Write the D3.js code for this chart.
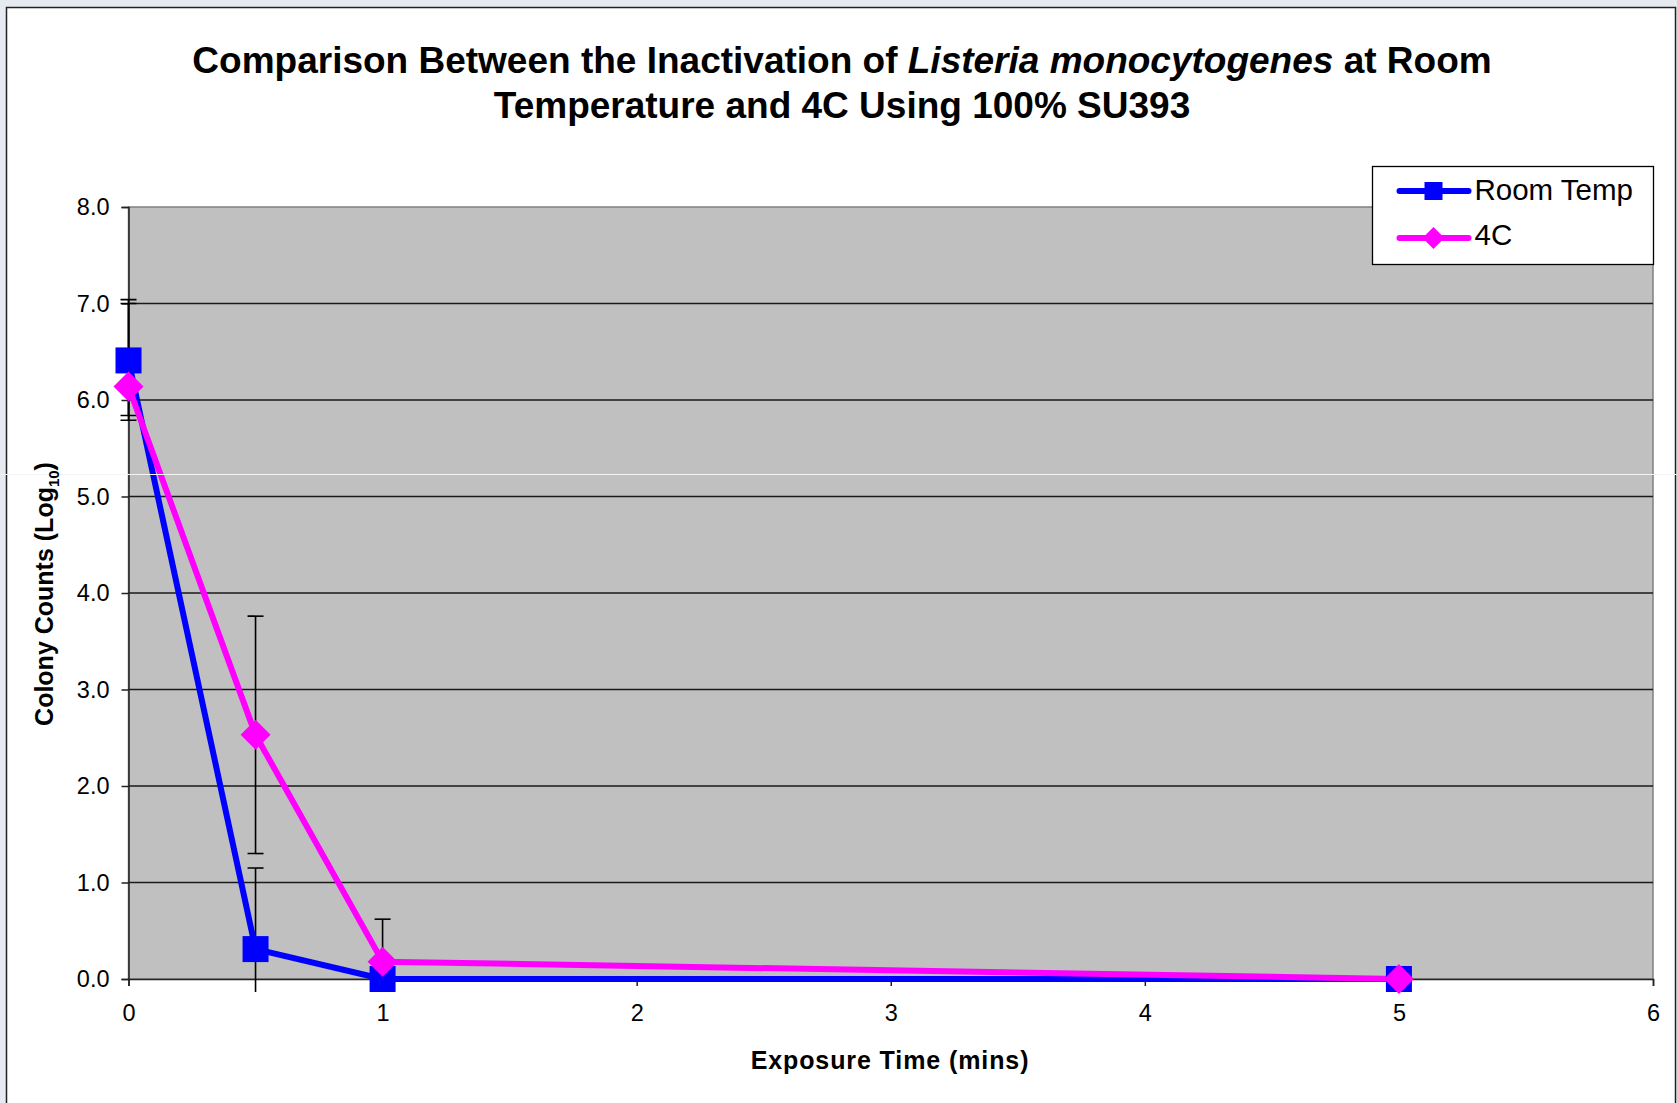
<!DOCTYPE html>
<meta charset="utf-8">
<script src="https://d3js.org/d3.v7.min.js"></script>
<style>
  body { margin: 0; background: #e6ebf2; }
  text { font-family: Arial, "Liberation Sans", sans-serif; }
</style>
<div id="my_dataviz"></div>

<script>

  // dados
  var times = [0, 0.5, 1, 5]
  var roomTemp = [6.41, 0.31, 0, 0]
  var roomTempErrUp = [0.63, 0.84, 0, 0]
  var roomTempErrDown = [0.62, 0.84, 0, 0]
  var cold = [6.14, 2.53, 0.18, 0]
  var coldErrUp = [0.86, 1.23, 0.44, 0]
  var coldErrDown = [0.30, 1.23, 0.44, 0]
  var seriesNames = ["Room Temp", "4C"]
  var yTicks = [0, 1, 2, 3, 4, 5, 6, 7, 8]
  var xTicks = [0, 1, 2, 3, 4, 5, 6]

  var W = 1677, H = 1103
  var margin = { top: 207, right: 24, bottom: 124, left: 128.5 },
    width = W - margin.left - margin.right,
    height = H - margin.top - margin.bottom;

  var root = d3.select("#my_dataviz")
    .append("svg")
    .attr("width", W)
    .attr("height", H)
    .style("display", "block")

  // fundo branco do grafico
  root.append("rect")
    .attr("x", 6.5).attr("y", 7.5)
    .attr("width", 1669).attr("height", H)
    .attr("fill", "white")
    .attr("stroke", "#222")
    .attr("stroke-width", 1.5)

  // titulo
  var title = root.append("text")
    .attr("text-anchor", "middle")
    .attr("font-size", 37)
    .attr("font-weight", "bold")
  var t1 = title.append("tspan").attr("x", 842).attr("y", 73)
  t1.append("tspan").text("Comparison Between the Inactivation of ")
  t1.append("tspan").attr("font-style", "italic").text("Listeria monocytogenes")
  t1.append("tspan").text(" at Room")
  title.append("tspan").attr("x", 842).attr("y", 118)
    .text("Temperature and 4C Using 100% SU393")

  var svg = root.append("g")
    .attr("transform", "translate(" + margin.left + "," + margin.top + ")")

  var x = d3.scaleLinear().domain([0, 6]).range([0, width])
  var y = d3.scaleLinear().domain([0, 8]).range([height, 0])

  // area do plot
  svg.append("rect")
    .attr("width", width)
    .attr("height", height)
    .attr("fill", "#c0c0c0")
    .attr("stroke", "#808080")
    .attr("stroke-width", 1.5)

  // linhas de grade
  svg.selectAll("gridLines")
    .data(yTicks.filter(function (d) { return d > 0 && d < 8 }))
    .enter()
    .append("line")
    .attr("x1", 0)
    .attr("x2", width)
    .attr("y1", function (d) { return y(d) })
    .attr("y2", function (d) { return y(d) })
    .attr("stroke", "#1a1a1a")
    .attr("stroke-width", 1.3)

  // eixos
  var yAxis = svg.append("g")
    .call(d3.axisLeft(y).tickValues(yTicks).tickSize(7).tickPadding(12)
      .tickFormat(d3.format(".1f")))
  var xAxis = svg.append("g")
    .attr("transform", "translate(0," + height + ")")
    .call(d3.axisBottom(x).tickValues(xTicks).tickSize(7).tickPadding(18)
      .tickFormat(d3.format("d")))
  ;[yAxis, xAxis].forEach(function (a) {
    a.select(".domain").attr("stroke", "#222").attr("stroke-width", 1.5)
    a.selectAll(".tick line").attr("stroke", "#222").attr("stroke-width", 1.5)
    a.selectAll("text").attr("font-size", 23.5)
      .attr("font-family", "Arial, 'Liberation Sans', sans-serif").attr("fill", "#000")
  })

  // linha branca que atravessa a imagem
  root.append("line")
    .attr("x1", 0).attr("x2", W).attr("y1", 474.5).attr("y2", 474.5)
    .attr("stroke", "#f4f4f4").attr("stroke-width", 1)

  var series = [
    { key: seriesNames[0], values: roomTemp, up: roomTempErrUp, down: roomTempErrDown, color: "#0000ff", shape: "square" },
    { key: seriesNames[1], values: cold, up: coldErrUp, down: coldErrDown, color: "#ff00ff", shape: "diamond" }
  ]

  // barras de erro (cortadas um pouco abaixo do eixo)
  root.append("clipPath").attr("id", "errClip")
    .append("rect").attr("x", -30).attr("y", -10).attr("width", width + 60).attr("height", height + 23)
  var errG = svg.append("g").attr("clip-path", "url(#errClip)")
  var capW = 8
  series.forEach(function (s) {
    times.forEach(function (t, i) {
      if (s.up[i] == 0 && s.down[i] == 0) return
      var hi = s.values[i] + s.up[i], lo = s.values[i] - s.down[i]
      errG.append("line")
        .attr("x1", x(t)).attr("x2", x(t))
        .attr("y1", y(hi)).attr("y2", y(lo))
        .attr("stroke", "black").attr("stroke-width", 1.6)
      ;[hi, lo].forEach(function (v) {
        errG.append("line")
          .attr("x1", x(t) - capW).attr("x2", x(t) + capW)
          .attr("y1", y(v)).attr("y2", y(v))
          .attr("stroke", "black").attr("stroke-width", 1.6)
      })
    })
  })

  var line = d3.line()
    .x(function (d, i) { return x(times[i]) })
    .y(function (d) { return y(d) })

  series.forEach(function (s) {
    svg.append("path")
      .datum(s.values)
      .attr("fill", "none")
      .attr("stroke", s.color)
      .attr("stroke-width", 6)
      .attr("stroke-linejoin", "round")
      .attr("d", line)
  })

  // marcadores
  var sq = d3.symbol().type(d3.symbolSquare).size(26 * 26)
  function diamond(r) {
    return "M0," + (-r) + "L" + r + ",0L0," + r + "L" + (-r) + ",0Z"
  }
  series.forEach(function (s) {
    svg.selectAll("m" + s.shape)
      .data(s.values)
      .enter()
      .append("path")
      .attr("transform", function (d, i) { return "translate(" + x(times[i]) + "," + y(d) + ")" })
      .attr("d", s.shape == "square" ? sq() : diamond(15))
      .attr("fill", s.color)
  })

  // titulos dos eixos
  var yTitle = root.append("text")
    .attr("transform", "translate(53,594) rotate(-90)")
    .attr("text-anchor", "middle")
    .attr("font-size", 25)
    .attr("font-weight", "bold")
  yTitle.append("tspan").text("Colony Counts (Log")
  yTitle.append("tspan").attr("font-size", 15).attr("dy", 6).text("10")
  yTitle.append("tspan").attr("dy", -6).text(")")

  root.append("text")
    .attr("x", 890).attr("y", 1069)
    .attr("text-anchor", "middle")
    .attr("font-size", 25)
    .attr("font-weight", "bold")
    .attr("letter-spacing", 0.9)
    .text("Exposure Time (mins)")

  // legenda
  var legend = root.append("g").attr("transform", "translate(1372.5,166.5)")
  legend.append("rect")
    .attr("width", 281).attr("height", 98)
    .attr("fill", "white").attr("stroke", "black").attr("stroke-width", 1.3)
  series.forEach(function (s, i) {
    var ly = 24.5 + i * 47
    legend.append("line")
      .attr("x1", 27).attr("x2", 96).attr("y1", ly).attr("y2", ly)
      .attr("stroke", s.color).attr("stroke-width", 6).attr("stroke-linecap", "round")
    legend.append("path")
      .attr("transform", "translate(61," + ly + ")")
      .attr("d", s.shape == "square" ? d3.symbol().type(d3.symbolSquare).size(18 * 18)() : diamond(11))
      .attr("fill", s.color)
    legend.append("text")
      .attr("x", 102).attr("y", ly + 9 - i * 2)
      .attr("font-size", 29.5)
      .text(s.key)
  })

</script>
